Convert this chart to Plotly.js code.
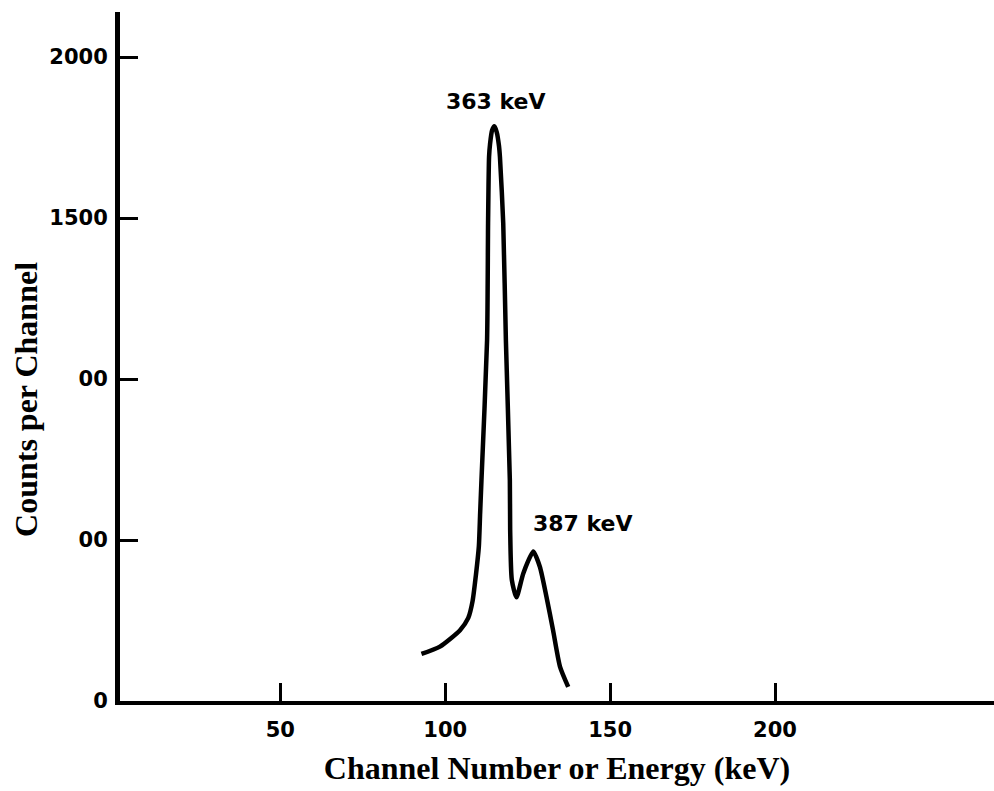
<!DOCTYPE html>
<html>
<head>
<meta charset="utf-8">
<script src="https://cdn.plot.ly/plotly-3.0.1.min.js"></script>
<style>html,body{margin:0;padding:0;background:#fff;}#chart{width:994px;height:791px;}</style>
</head>
<body>
<div id="chart"></div>
<script>
// Spectrum trace (channel, counts per channel)
const channel = [92.8, 98.4, 104.5, 107.0, 108.3, 109.3, 110.2, 110.6, 111.0, 112.7, 113.0, 113.3, 113.6, 114.2, 114.9, 115.6, 116.3, 116.6, 117.6, 118.4, 119.6, 119.7, 120.2, 121.6, 123.7, 126.7, 128.7, 130.7, 132.7, 134.8, 137.3];
const counts  = [146, 169, 220, 258, 310, 390, 479, 584, 686, 1121, 1483, 1690, 1730, 1772, 1785, 1768, 1725, 1690, 1483, 1121, 686, 531, 376, 322, 397, 464, 417, 324, 220, 107, 44];

const yTickVals = [0, 500, 1000, 1500, 2000];
const yTickText = ["0", "00", "00", "1500", "2000"];
const xTickVals = [50, 100, 150, 200];
const xTickText = ["50", "100", "150", "200"];

const peakLabels = ["363 keV", "387 keV"];
const peakLabelX = [115.5, 141.8];
const peakLabelY = [1863, 550];

const xTitle = "Channel Number or Energy (keV)";
const yTitle = "Counts per Channel";

const tickFont = {family: "DejaVu Sans", size: 21, color: "#000", weight: "bold"};
const titleFont = {family: "Liberation Serif", size: 32, color: "#000", weight: "bold"};

const trace = {
  x: channel, y: counts, type: "scatter", mode: "lines",
  line: {color: "#000", width: 4.5, shape: "spline", smoothing: 0.6},
  hoverinfo: "skip", showlegend: false
};

const annotations = peakLabels.map((t, i) => ({
  x: peakLabelX[i], y: peakLabelY[i], xref: "x", yref: "y",
  text: t, showarrow: false, xanchor: "center", yanchor: "middle",
  font: {family: "DejaVu Sans", size: 22, color: "#000", weight: "bold"}
}));
// y-axis title (offset from the axis centre in the reference, so placed as a rotated annotation)
annotations.push({
  x: -0.1076, y: 0.4383, xref: "paper", yref: "paper",
  text: yTitle, textangle: -90, showarrow: false,
  xanchor: "center", yanchor: "middle", font: titleFont
});

const layout = {
  width: 994, height: 791,
  margin: {l: 120, r: 0, t: 12, b: 90, pad: 0},
  paper_bgcolor: "#fff", plot_bgcolor: "#fff",
  showlegend: false,
  xaxis: {
    range: [1.4, 266.4], showgrid: false, zeroline: false,
    showline: true, linecolor: "#000", linewidth: 4,
    ticks: "inside", ticklen: 18, tickwidth: 3, tickcolor: "#000",
    tickvals: xTickVals, ticktext: xTickText, tickfont: tickFont,
    ticklabelstandoff: 7,
    title: {text: xTitle, font: titleFont, standoff: 16},
    automargin: false
  },
  yaxis: {
    range: [0, 2140], showgrid: false, zeroline: false,
    showline: true, linecolor: "#000", linewidth: 5,
    ticks: "inside", ticklen: 18, tickwidth: 3, tickcolor: "#000",
    tickvals: yTickVals, ticktext: yTickText, tickfont: tickFont,
    ticklabelstandoff: 3,
    automargin: false
  },
  annotations: annotations
};

Plotly.newPlot("chart", [trace], layout, {staticPlot: true, displayModeBar: false});
</script>
</body>
</html>
